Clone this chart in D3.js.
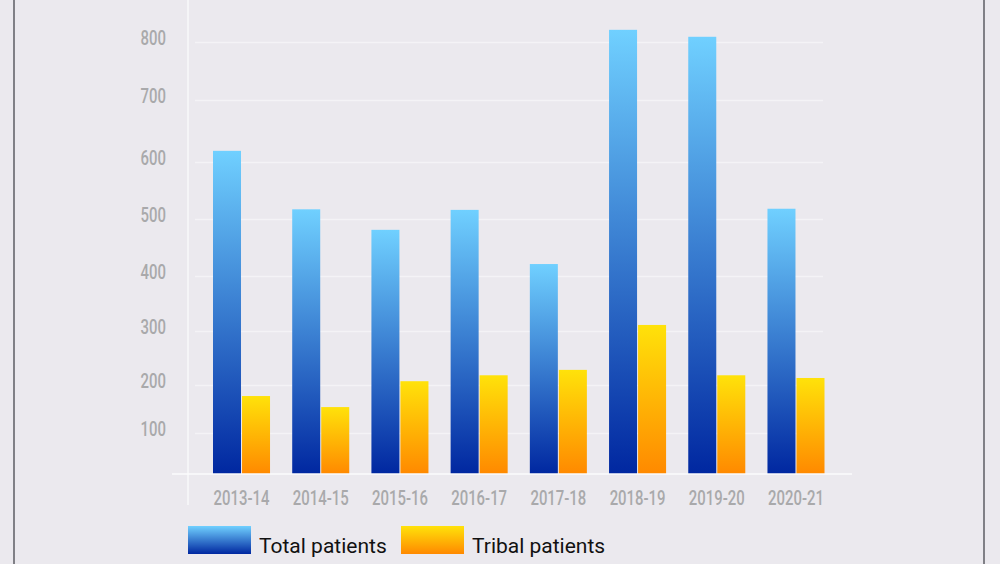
<!DOCTYPE html>
<html>
<head>
<meta charset="utf-8">
<script src="https://cdn.jsdelivr.net/npm/d3@7"></script>
<style>
  html, body { margin: 0; padding: 0; background: #ebe9ee; }
  svg { display: block; }
  .num { font-family: Roboto, 'Noto Sans', sans-serif; font-weight: 500; fill: #a9a9ab; font-size: 21px; }
  .legend-label { font-family: Roboto, 'Noto Sans', sans-serif; font-size: 21px; fill: #111; }
</style>
</head>
<body>
<svg width="1000" height="564"></svg>
<script>
// Chart data
const years = ['2013-14', '2014-15', '2015-16', '2016-17', '2017-18', '2018-19', '2019-20', '2020-21'];
const totalPatients = [618, 517, 481, 516, 421, 821, 809, 518];
const tribalPatients = [177, 154, 207, 218, 228, 311, 218, 213];
const yTicks = [100, 200, 300, 400, 500, 600, 700, 800];
const seriesNames = ['Total patients', 'Tribal patients'];

const svg = d3.select('svg');
const width = +svg.attr('width');
const height = +svg.attr('height');

// the tick labels are a tall condensed face, so squeeze a normal one
const squeeze = 'scale(0.71,1)';

// frame lines at the sides
svg.selectAll('line.frame')
  .data([14, 984])
  .enter()
  .append('line')
  .attr('class', 'frame')
  .attr('x1', (d) => d).attr('x2', (d) => d)
  .attr('y1', 0).attr('y2', height)
  .attr('stroke', '#5d5c63')
  .attr('stroke-width', 1.5);

// gradients
const defs = svg.append('defs');
const addGradient = (id, top, bottom) => {
  const g = defs.append('linearGradient')
    .attr('id', id)
    .attr('x1', 0).attr('y1', 0).attr('x2', 0).attr('y2', 1);
  g.append('stop').attr('offset', '0%').attr('stop-color', top);
  g.append('stop').attr('offset', '100%').attr('stop-color', bottom);
};
addGradient('grad-total', '#70d0ff', '#0027a0');
addGradient('grad-tribal', '#ffe20a', '#ff8900');

// the gridlines in the picture are not evenly spaced, so the scale is piecewise
const yScale = d3.scaleLinear()
  .domain([0, 100, 200, 300, 400, 500, 600, 700, 800])
  .range([474, 433, 385, 331, 276, 219, 162, 100, 42]);

const xScale = d3.scaleBand()
  .domain(years)
  .range([213, 824.5])
  .paddingInner(0.28)
  .paddingOuter(0);

const xSub = d3.scaleBand()
  .domain(seriesNames)
  .range([0, xScale.bandwidth()])
  .paddingInner(0.035);

// gridlines
const gridLeft = 195;
const gridRight = 823;
svg.append('g')
  .attr('transform', `translate(${gridRight},0)`)
  .call(d3.axisLeft(yScale).tickValues(yTicks).tickSize(gridRight - gridLeft).tickFormat(''))
  .call((g) => g.select('.domain').remove())
  .selectAll('line')
  .attr('stroke', '#f4f3f6')
  .attr('stroke-width', 1.5);

// y labels
svg.append('g')
  .attr('transform', 'translate(166,0)')
  .call(d3.axisLeft(yScale).tickValues(yTicks).tickSize(0).tickPadding(0))
  .call((g) => g.select('.domain').remove())
  .selectAll('text')
  .attr('class', 'num')
  .attr('dy', '0.1em')
  .attr('transform', squeeze)
  .attr('fill', null);

// vertical axis line
svg.append('line')
  .attr('x1', 188).attr('x2', 188)
  .attr('y1', 0).attr('y2', 505)
  .attr('stroke', '#f8f8fa')
  .attr('stroke-width', 1.5);

// bars
const groups = svg.append('g')
  .selectAll('g')
  .data(years)
  .enter()
  .append('g')
  .attr('transform', (d) => `translate(${xScale(d)},0)`);

groups.append('rect')
  .attr('x', xSub('Total patients'))
  .attr('y', (d, i) => yScale(totalPatients[i]))
  .attr('width', xSub.bandwidth())
  .attr('height', (d, i) => yScale(0) - yScale(totalPatients[i]))
  .attr('fill', 'url(#grad-total)');

groups.append('rect')
  .attr('x', xSub('Tribal patients'))
  .attr('y', (d, i) => yScale(tribalPatients[i]))
  .attr('width', xSub.bandwidth())
  .attr('height', (d, i) => yScale(0) - yScale(tribalPatients[i]))
  .attr('fill', 'url(#grad-tribal)');

// baseline
svg.append('line')
  .attr('x1', 172).attr('x2', 852)
  .attr('y1', yScale(0)).attr('y2', yScale(0))
  .attr('stroke', '#fbfbfd')
  .attr('stroke-width', 1.5);

// x labels
svg.append('g')
  .attr('transform', `translate(0,${yScale(0)})`)
  .call(d3.axisBottom(xScale).tickSize(0))
  .call((g) => g.select('.domain').remove())
  .selectAll('text')
  .attr('class', 'num')
  .attr('y', 31)
  .attr('dy', 0)
  .attr('transform', squeeze)
  .attr('fill', null);

// legend
const legend = svg.append('g');
const legendItems = [
  { name: seriesNames[0], fill: 'url(#grad-total)', x: 188 },
  { name: seriesNames[1], fill: 'url(#grad-tribal)', x: 401 }
];
legendItems.forEach((d) => {
  legend.append('rect')
    .attr('x', d.x).attr('y', 526)
    .attr('width', 63).attr('height', 28)
    .attr('fill', d.fill);
  legend.append('text')
    .attr('class', 'legend-label')
    .attr('x', d.x + 71)
    .attr('y', 553)
    .text(d.name);
});
</script>
</body>
</html>
